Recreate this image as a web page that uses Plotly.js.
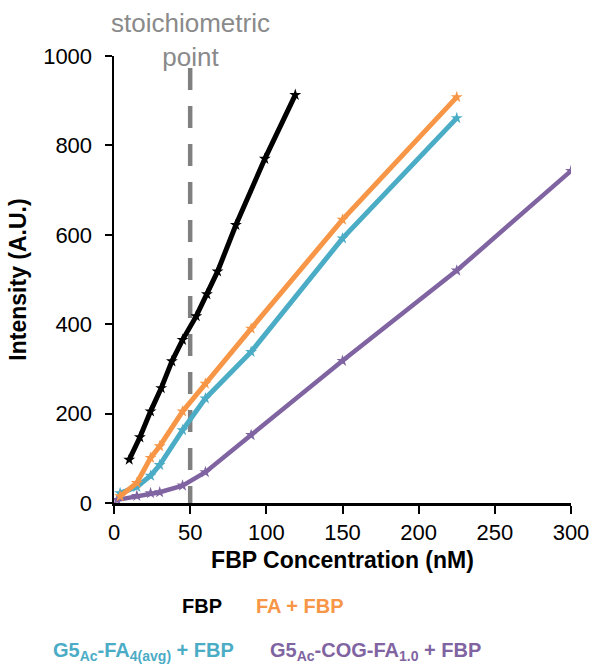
<!DOCTYPE html>
<html>
<head>
<meta charset="utf-8">
<script src="https://cdn.plot.ly/plotly-3.0.1.min.js"></script>
<style>html,body{margin:0;padding:0;background:#fff;}#chart{width:591px;height:665px;}</style>
</head>
<body>
<div id="chart"></div>
<script>
// Data
const seriesNames = ['FBP', 'FA + FBP', 'G5<sub>Ac</sub>-FA<sub>4(avg)</sub> + FBP', 'G5<sub>Ac</sub>-COG-FA<sub>1.0</sub> + FBP'];
const seriesColors = ['#000000', '#F79646', '#4BACC6', '#8064A2'];

const fbpX = [10, 17, 24, 31, 38, 45, 54, 61, 68, 80, 99, 119];
const fbpY = [97, 147, 205, 257, 317, 365, 418, 467, 518, 622, 770, 913];

const faX = [4, 15, 24, 30, 45, 60, 90, 150, 225];
const faY = [15, 45, 101, 127, 205, 267, 390, 634, 908];

const g5faX = [4, 15, 24, 30, 45, 60, 90, 150, 225];
const g5faY = [22, 36, 61, 85, 163, 234, 338, 592, 861];

const cogX = [2, 15, 24, 30, 45, 60, 90, 150, 225, 300];
const cogY = [7, 16, 22, 24, 39, 69, 152, 318, 520, 743];

const stoichX = 50;
const stoichTop = 973;

const xs = [fbpX, faX, g5faX, cogX];
const ys = [fbpY, faY, g5faY, cogY];
const lineWidths = [5, 5, 5, 4.5];

const FONT = 'Liberation Sans, Arial, sans-serif';

const traces = xs.map((x, i) => ({
  x: x, y: ys[i], type: 'scatter', mode: 'lines+markers',
  name: seriesNames[i],
  line: {color: seriesColors[i], width: lineWidths[i]},
  marker: {color: seriesColors[i], symbol: 'star', size: 9},
  showlegend: false, hoverinfo: 'skip'
}));

// draw purple first, black last (black on top)
const ordered = [traces[3], traces[2], traces[1], traces[0]];

const legendPos = [
  {x: 0.1926, y: -0.2304},
  {x: 0.407, y: -0.2304},
  {x: 0.0646, y: -0.3333},
  {x: 0.573, y: -0.3333}
];

const annotations = seriesNames.map((n, i) => ({
  xref: 'paper', yref: 'paper', x: legendPos[i].x, y: legendPos[i].y,
  xanchor: 'center', yanchor: 'middle', showarrow: false,
  text: '<b>' + n + '</b>',
  font: {family: FONT, size: 20, color: seriesColors[i]}
}));

annotations.push({
  xref: 'x', yref: 'paper', x: stoichX, y: 1.0358,
  xanchor: 'center', yanchor: 'middle', showarrow: false,
  text: 'stoichiometric<br>point',
  font: {family: FONT, size: 26, color: '#8a8a8a'}
});

const layout = {
  width: 591, height: 665,
  margin: {l: 114, r: 20, t: 56, b: 162},
  paper_bgcolor: '#ffffff', plot_bgcolor: '#ffffff',
  font: {family: FONT, size: 22, color: '#000'},
  xaxis: {
    range: [0, 300], dtick: 50, tick0: 0,
    showgrid: false, zeroline: false,
    showline: true, linecolor: '#000', linewidth: 2.5,
    ticks: 'outside', ticklen: 8, tickwidth: 2, tickcolor: '#000',
    tickfont: {family: FONT, size: 22, color: '#000'},
    title: {text: '<b>FBP Concentration (nM)</b>', font: {family: FONT, size: 23, color: '#000'}, standoff: 8}
  },
  yaxis: {
    range: [0, 1000], dtick: 200, tick0: 0,
    showgrid: false, zeroline: false,
    showline: true, linecolor: '#000', linewidth: 2.5,
    ticks: 'outside', ticklen: 7, tickwidth: 2, tickcolor: '#000',
    ticklabelstandoff: 8,
    tickfont: {family: FONT, size: 22, color: '#000'},
    title: {text: '<b>Intensity (A.U.)</b>', font: {family: FONT, size: 23, color: '#000'}, standoff: 10}
  },
  shapes: [{
    type: 'line', xref: 'x', yref: 'y',
    x0: stoichX, x1: stoichX, y0: stoichTop, y1: 0,
    line: {color: '#808080', width: 4.5, dash: '22px,16px'},
    layer: 'below'
  }],
  annotations: annotations
};

Plotly.newPlot('chart', ordered, layout, {displayModeBar: false, staticPlot: true});
</script>
</body>
</html>
